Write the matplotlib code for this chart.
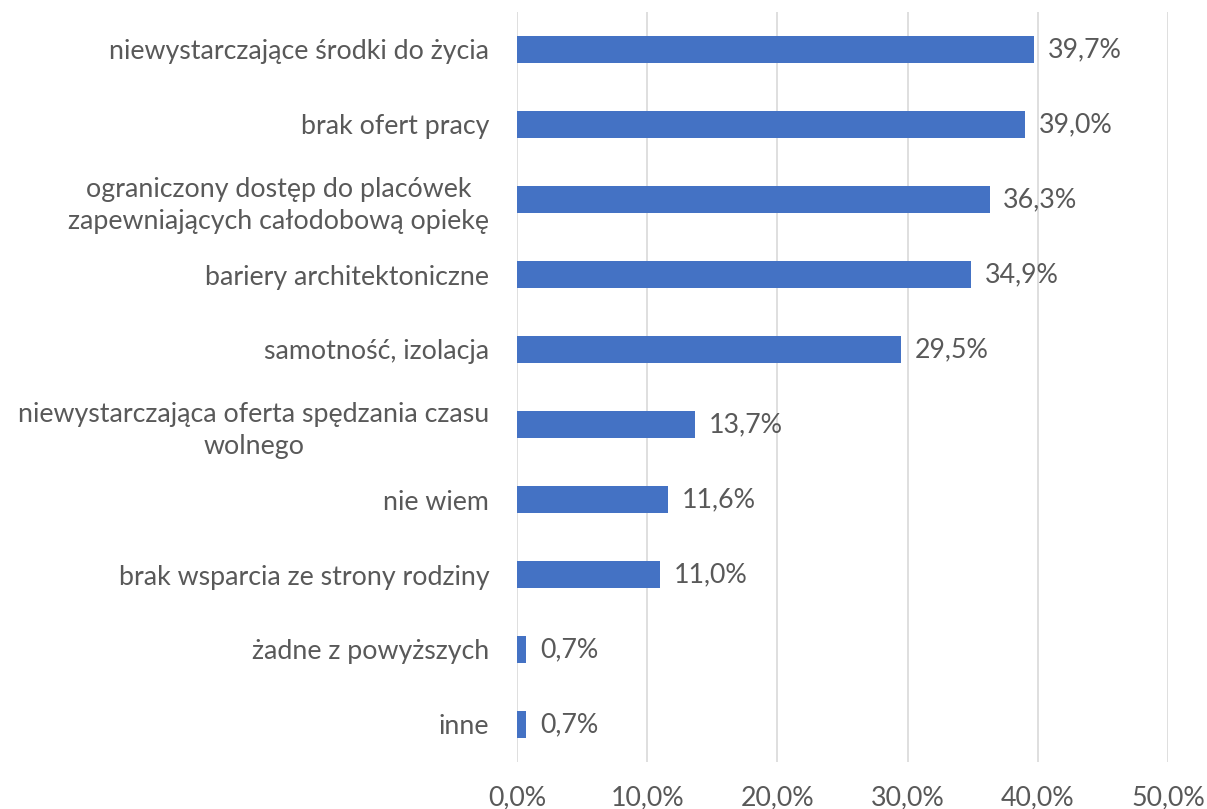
import matplotlib
matplotlib.use("Agg")
import matplotlib.pyplot as plt
from matplotlib.ticker import FuncFormatter

categories = [
    "niewystarczające środki do życia",
    "brak ofert pracy",
    "ograniczony dostęp do placówek\nzapewniających całodobową opiekę",
    "bariery architektoniczne",
    "samotność, izolacja",
    "niewystarczająca oferta spędzania czasu\nwolnego",
    "nie wiem",
    "brak wsparcia ze strony rodziny",
    "żadne z powyższych",
    "inne",
]
values = [39.7, 39.0, 36.3, 34.9, 29.5, 13.7, 11.6, 11.0, 0.7, 0.7]
xticks = [0, 10, 20, 30, 40, 50]

plt.rcParams['font.family'] = ['Lato', 'DejaVu Sans']
txt = "#595959"

fig = plt.figure(figsize=(12.07, 8.09), dpi=100)
ax = fig.add_axes([517/1207, 1-762/809, (1168-517)/1207, 750/809])

y = list(range(len(categories)))
ax.barh(y, values, height=0.35, color="#4472C4", zorder=3)
ax.set_ylim(len(categories)-0.5, -0.5)
ax.set_xlim(0, 50)
ax.set_xticks(xticks)
ax.xaxis.set_major_formatter(FuncFormatter(lambda v, p: f"{v:.1f}%".replace(".", ",")))
ax.set_yticks(y)
ax.set_yticklabels(categories, multialignment="center", linespacing=1.35)
ax.tick_params(axis="y", length=0, pad=20, labelsize=19.3, labelcolor=txt)
ax.tick_params(axis="x", length=0, pad=17, labelsize=19.3, labelcolor=txt)
ax.grid(axis="x", color="#D9D9D9", linewidth=1.2, zorder=0)
for s in ax.spines.values():
    s.set_visible(False)

for yi, v in zip(y, values):
    ax.text(v + 1.05, yi, f"{v:.1f}%".replace(".", ","), va="center", ha="left",
            fontsize=19.3, color=txt)

fig.savefig("out.png", dpi=100)
